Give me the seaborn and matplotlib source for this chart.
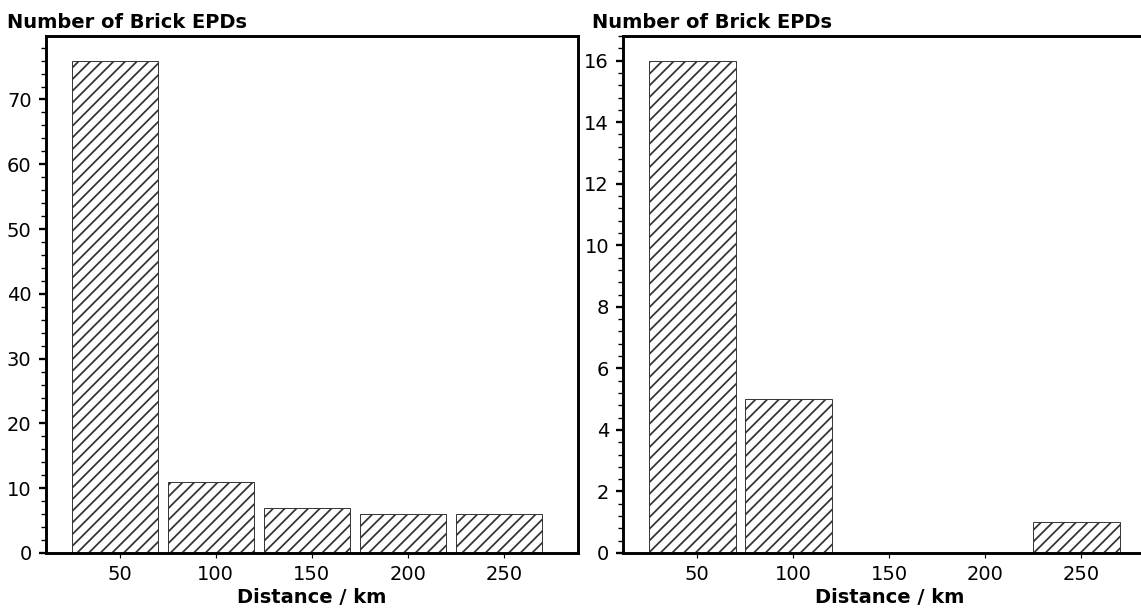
import numpy as np
import pandas as pd
import matplotlib
matplotlib.use("Agg")
import matplotlib.pyplot as plt
from matplotlib.ticker import AutoMinorLocator
import seaborn as sns

# ---- data ----
bin_edges = [25, 75, 125, 175, 225, 275]
counts_left = [76, 11, 7, 6, 6]
counts_right = [16, 5, 0, 0, 1]
y_title = "Number of Brick EPDs"
x_label = "Distance / km"

sns.set_style("ticks")
plt.rcParams["font.family"] = ["DejaVu Sans"]
plt.rcParams["font.size"] = 10
plt.rcParams["hatch.linewidth"] = 0.9
for k in ["text.color", "axes.labelcolor", "xtick.color", "ytick.color", "axes.edgecolor"]:
    plt.rcParams[k] = "black"

DPI = 140
fig = plt.figure(figsize=(1141 / DPI, 608 / DPI), dpi=DPI)
W, H = 1141, 608
axL = fig.add_axes([45.8 / W, 1 - 553 / H, 532 / W, 517 / H])
axR = fig.add_axes([623.3 / W, 1 - 553 / H, 532 / W, 517 / H])

shrink = 0.9
edges = np.array(bin_edges, dtype=float)
centers = (edges[:-1] + edges[1:]) / 2
binw = np.diff(edges)

for ax, counts, tx in [(axL, counts_left, -38.5), (axR, counts_right, -31.5)]:
    df = pd.DataFrame({"dist": centers, "n": counts})
    sns.histplot(data=df, x="dist", weights="n", bins=list(bin_edges), shrink=shrink,
                 color="white", edgecolor="#333333", linewidth=0.5,
                 alpha=1, ax=ax)
    # bars are left-aligned within each bin in the reference
    for p in ax.patches:
        p.set_x(p.get_x() - (1 - shrink) / 2 * binw[0])
        p.set_hatch("////")
        p.set_facecolor("white")
        p.set_edgecolor("#333333")
    ax.set_xlim(11.6, 288.4)
    ax.set_ylim(0, max(counts) * 1.05)
    ax.set_ylabel("")
    ax.set_xlabel(x_label, fontweight="bold", fontsize=10, labelpad=2)
    for s in ax.spines.values():
        s.set_linewidth(1.5)
        s.set_color("black")
        s.set_visible(True)
    ax.yaxis.set_minor_locator(AutoMinorLocator(5))
    ax.tick_params(axis="y", which="major", length=3.8, width=1.2, labelsize=10, direction="out")
    ax.tick_params(axis="y", which="minor", length=2.5, width=0.7, direction="out")
    ax.tick_params(axis="x", which="major", length=2.8, width=0.6, labelsize=10, direction="out")
    ax.annotate(y_title, xy=(0, 1), xycoords="axes fraction",
                xytext=(tx, 8), textcoords="offset pixels",
                ha="left", va="baseline", fontsize=10, fontweight="bold")

fig.savefig("out.png", dpi=DPI)
